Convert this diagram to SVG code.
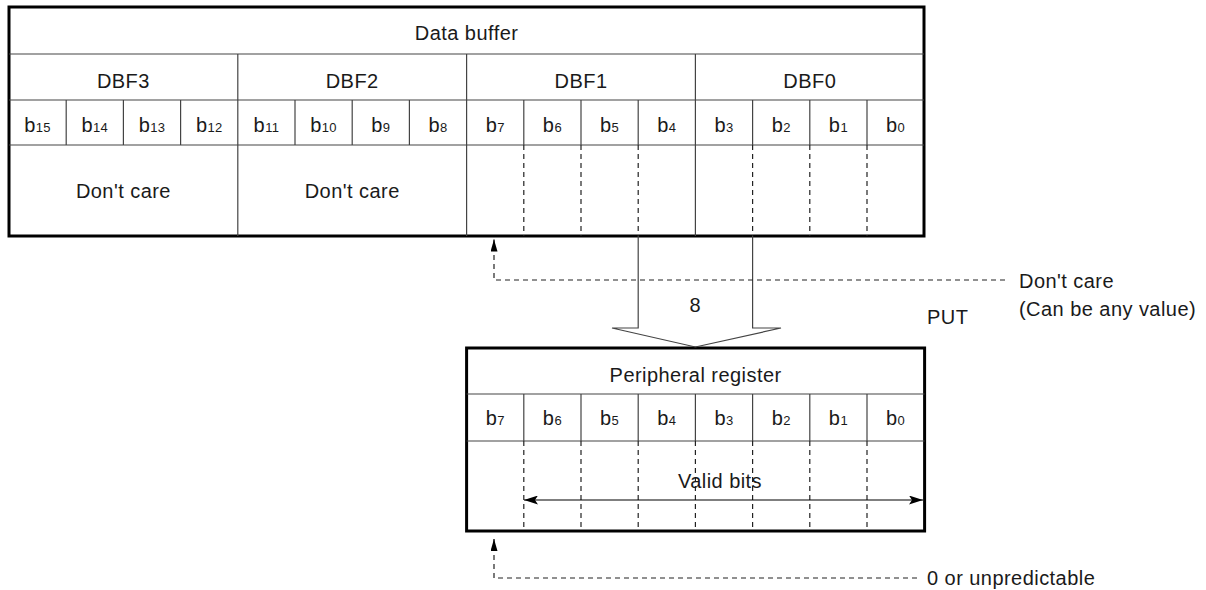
<svg xmlns="http://www.w3.org/2000/svg" width="1206" height="590" viewBox="0 0 1206 590">
<style>
text{font-family:"Liberation Sans",Arial,sans-serif;fill:#1a1a1a;font-size:20px;letter-spacing:0.45px}
.c{text-anchor:middle}
.s{font-size:13px;letter-spacing:0.3px}
.outer{fill:none;stroke:#000;stroke-width:3}
.ln{stroke:#444;stroke-width:1.2;fill:none}
.ds{stroke:#222;stroke-width:1.2;stroke-dasharray:5,4;fill:none}
</style>
<defs>
<marker id="ah" markerWidth="15" markerHeight="9" refX="14" refY="4.5" orient="auto-start-reverse" markerUnits="userSpaceOnUse">
<path d="M0,0 L14,4.5 L0,9 L3,4.5 Z" fill="#000"/>
</marker>
<marker id="ahs" markerWidth="13" markerHeight="8" refX="12" refY="3.5" orient="auto" markerUnits="userSpaceOnUse">
<path d="M0,0 L12,3.5 L0,7 Z" fill="#000"/>
</marker>
</defs>

<g id="data-buffer">
<rect class="outer" x="9" y="7" width="915" height="229"/>
<line class="ln" x1="9" y1="54" x2="924" y2="54"/>
<line class="ln" x1="9" y1="100" x2="924" y2="100"/>
<line class="ln" x1="9" y1="145" x2="924" y2="145"/>
<line class="ln" x1="237.8" y1="54" x2="237.8" y2="236"/>
<line class="ln" x1="466.6" y1="54" x2="466.6" y2="236"/>
<line class="ln" x1="695.4" y1="54" x2="695.4" y2="236"/>
<g class="ln">
<line x1="66.2" y1="100" x2="66.2" y2="145"/>
<line x1="123.4" y1="100" x2="123.4" y2="145"/>
<line x1="180.6" y1="100" x2="180.6" y2="145"/>
<line x1="295" y1="100" x2="295" y2="145"/>
<line x1="352.2" y1="100" x2="352.2" y2="145"/>
<line x1="409.4" y1="100" x2="409.4" y2="145"/>
<line x1="523.8" y1="100" x2="523.8" y2="145"/>
<line x1="581" y1="100" x2="581" y2="145"/>
<line x1="638.2" y1="100" x2="638.2" y2="145"/>
<line x1="752.6" y1="100" x2="752.6" y2="145"/>
<line x1="809.8" y1="100" x2="809.8" y2="145"/>
<line x1="867" y1="100" x2="867" y2="145"/>
</g>
<g class="ds">
<line x1="523.8" y1="145" x2="523.8" y2="236"/>
<line x1="581" y1="145" x2="581" y2="236"/>
<line x1="638.2" y1="145" x2="638.2" y2="236"/>
<line x1="752.6" y1="145" x2="752.6" y2="236"/>
<line x1="809.8" y1="145" x2="809.8" y2="236"/>
<line x1="867" y1="145" x2="867" y2="236"/>
</g>
<text class="c" x="466.6" y="40">Data buffer</text>
<text class="c" x="123.4" y="88">DBF3</text>
<text class="c" x="352.2" y="88">DBF2</text>
<text class="c" x="581" y="88">DBF1</text>
<text class="c" x="809.8" y="88">DBF0</text>
<text class="c" x="37.6" y="132">b<tspan class="s">15</tspan></text>
<text class="c" x="94.8" y="132">b<tspan class="s">14</tspan></text>
<text class="c" x="152" y="132">b<tspan class="s">13</tspan></text>
<text class="c" x="209.2" y="132">b<tspan class="s">12</tspan></text>
<text class="c" x="266.4" y="132">b<tspan class="s">11</tspan></text>
<text class="c" x="323.6" y="132">b<tspan class="s">10</tspan></text>
<text class="c" x="380.8" y="132">b<tspan class="s">9</tspan></text>
<text class="c" x="438" y="132">b<tspan class="s">8</tspan></text>
<text class="c" x="495.2" y="132">b<tspan class="s">7</tspan></text>
<text class="c" x="552.4" y="132">b<tspan class="s">6</tspan></text>
<text class="c" x="609.6" y="132">b<tspan class="s">5</tspan></text>
<text class="c" x="666.8" y="132">b<tspan class="s">4</tspan></text>
<text class="c" x="724" y="132">b<tspan class="s">3</tspan></text>
<text class="c" x="781.2" y="132">b<tspan class="s">2</tspan></text>
<text class="c" x="838.4" y="132">b<tspan class="s">1</tspan></text>
<text class="c" x="895.6" y="132">b<tspan class="s">0</tspan></text>
<text class="c" x="123.4" y="198">Don't care</text>
<text class="c" x="352.2" y="198">Don't care</text>
</g>

<g id="peripheral-register">
<rect class="outer" x="466.6" y="348" width="458" height="183"/>
<line class="ln" x1="466.6" y1="394" x2="924.6" y2="394"/>
<line class="ln" x1="466.6" y1="441" x2="924.6" y2="441"/>
<g class="ln">
<line x1="523.8" y1="394" x2="523.8" y2="441"/>
<line x1="581" y1="394" x2="581" y2="441"/>
<line x1="638.2" y1="394" x2="638.2" y2="441"/>
<line x1="695.4" y1="394" x2="695.4" y2="441"/>
<line x1="752.6" y1="394" x2="752.6" y2="441"/>
<line x1="809.8" y1="394" x2="809.8" y2="441"/>
<line x1="867" y1="394" x2="867" y2="441"/>
</g>
<g class="ds">
<line x1="523.8" y1="441" x2="523.8" y2="531"/>
<line x1="581" y1="441" x2="581" y2="531"/>
<line x1="638.2" y1="441" x2="638.2" y2="531"/>
<line x1="695.4" y1="441" x2="695.4" y2="531"/>
<line x1="752.6" y1="441" x2="752.6" y2="531"/>
<line x1="809.8" y1="441" x2="809.8" y2="531"/>
<line x1="867" y1="441" x2="867" y2="531"/>
</g>
<text class="c" x="695.6" y="382">Peripheral register</text>
<text class="c" x="495.2" y="425">b<tspan class="s">7</tspan></text>
<text class="c" x="552.4" y="425">b<tspan class="s">6</tspan></text>
<text class="c" x="609.6" y="425">b<tspan class="s">5</tspan></text>
<text class="c" x="666.8" y="425">b<tspan class="s">4</tspan></text>
<text class="c" x="724" y="425">b<tspan class="s">3</tspan></text>
<text class="c" x="781.2" y="425">b<tspan class="s">2</tspan></text>
<text class="c" x="838.4" y="425">b<tspan class="s">1</tspan></text>
<text class="c" x="895.6" y="425">b<tspan class="s">0</tspan></text>
<text class="c" x="720" y="488">Valid bits</text>
</g>

<g id="connectors">
<line stroke="#000" stroke-width="1.2" x1="524" y1="500" x2="923" y2="500" marker-start="url(#ah)" marker-end="url(#ah)"/>
<path class="ln" d="M638.2,236 V328 H612 L695.4,347 L781,328 H752.6 V236"/>
<path class="ds" d="M1005,280 H494 V251"/>
<line stroke="#000" stroke-width="1.2" x1="494" y1="251" x2="494" y2="239.5" marker-end="url(#ahs)"/>
<path class="ds" d="M917,578 H494 V551"/>
<line stroke="#000" stroke-width="1.2" x1="494" y1="551" x2="494" y2="539" marker-end="url(#ahs)"/>
</g>

<g id="labels">
<text class="c" x="695.4" y="312">8</text>
<text x="927" y="324">PUT</text>
<text x="1019" y="288">Don't care</text>
<text x="1019" y="316">(Can be any value)</text>
<text x="927" y="585">0 or unpredictable</text>
</g>
</svg>
